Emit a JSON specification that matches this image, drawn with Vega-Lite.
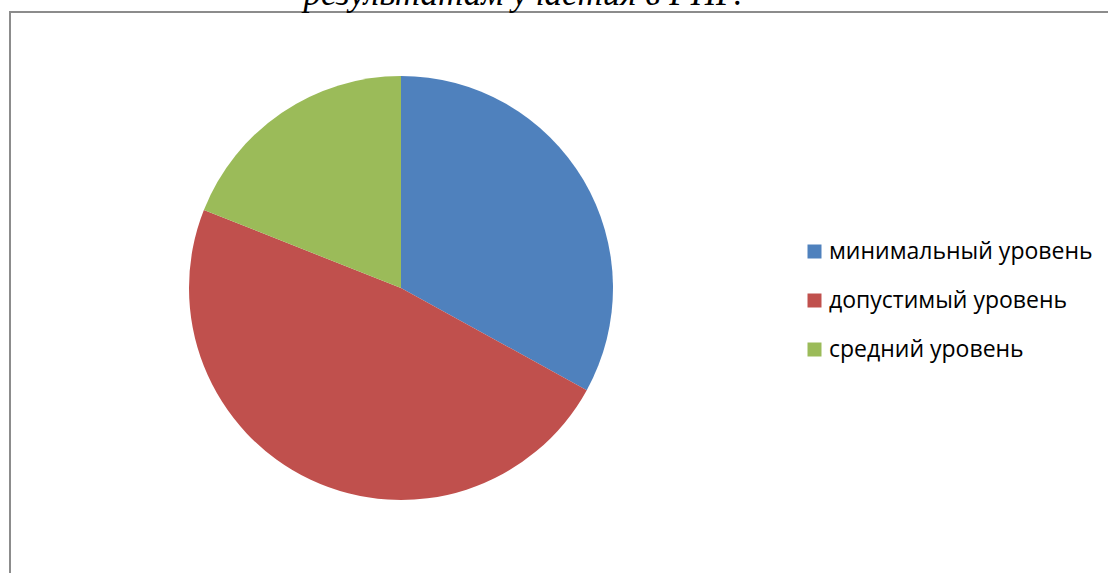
{
  "$schema": "https://vega.github.io/schema/vega-lite/v6.json",
  "width": 1120,
  "height": 580,
  "autosize": {"type": "none"},
  "padding": {"left": 10, "top": 12, "right": -22, "bottom": -19},
  "background": "white",
  "title": {
    "text": "результатам участия в РПР.",
    "font": "Liberation Serif",
    "fontStyle": "italic",
    "fontWeight": "normal",
    "fontSize": 35,
    "color": "black",
    "anchor": "middle",
    "baseline": "alphabetic",
    "dx": -47,
    "dy": 32,
    "offset": 4
  },
  "data": {
    "values": [
      {"level": "минимальный уровень", "share": 33, "k": 1},
      {"level": "допустимый уровень", "share": 48, "k": 2},
      {"level": "средний уровень", "share": 19, "k": 3}
    ]
  },
  "mark": {"type": "arc", "outerRadius": 212},
  "encoding": {
    "theta": {"field": "share", "type": "quantitative", "stack": true},
    "order": {"field": "k", "type": "quantitative"},
    "x": {"datum": 0.3491, "type": "quantitative", "scale": {"domain": [0, 1]}, "axis": null},
    "y": {"datum": 0.5241, "type": "quantitative", "scale": {"domain": [0, 1]}, "axis": null},
    "color": {
      "field": "level",
      "type": "nominal",
      "scale": {
        "domain": ["минимальный уровень", "допустимый уровень", "средний уровень"],
        "range": ["#4F81BD", "#C0504D", "#9BBB59"]
      },
      "legend": {
        "orient": "none",
        "legendX": 793,
        "legendY": 228,
        "title": null,
        "symbolType": "square",
        "symbolSize": 196,
        "symbolStrokeWidth": 0,
        "labelFont": "Open Sans",
        "labelFontSize": 23,
        "labelColor": "black",
        "labelOffset": 3,
        "rowPadding": 25,
        "labelLimit": 400
      }
    }
  },
  "config": {
    "view": {"stroke": "#8c8c8c", "strokeWidth": 2}
  }
}
